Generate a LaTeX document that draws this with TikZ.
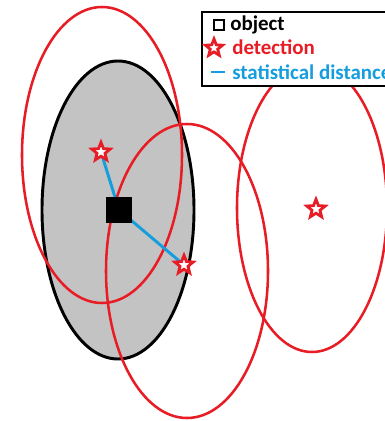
\documentclass[tikz,border=0pt]{standalone}
\usepackage{fontspec}
\setmainfont{Carlito}
\usetikzlibrary{shapes.geometric}
\definecolor{pred}{RGB}{232,28,36}
\definecolor{pblue}{RGB}{20,158,222}
\definecolor{pgray}{RGB}{195,195,195}
\tikzset{
  redell/.style={draw=pred,line width=1.9pt},
  det/.style={star,star points=5,star point ratio=2.3,minimum size=14.5pt,inner sep=0pt,draw=pred,fill=white,line width=2.1pt},
  dist/.style={draw=pblue,line width=2.2pt},
  legtext/.style={anchor=base west,font=\fontsize{15.7}{18}\selectfont\bfseries,inner sep=0pt}
}
\begin{document}
\begin{tikzpicture}[x=0.75pt,y=-0.75pt]
\useasboundingbox (0,0) rectangle (385,421);
\fill[white] (0,0) rectangle (385,421);
% object covariance
\draw[fill=pgray,line width=2.2pt] (118,210) ellipse [x radius=76,y radius=149];
% detection ellipses
\draw[redell] (102,155) ellipse [x radius=80,y radius=148];
\draw[redell] (187,271) ellipse [x radius=81,y radius=147];
\draw[redell] (312,208) ellipse [x radius=75,y radius=144];
% object and detections
\coordinate (oc) at (119,210);
\coordinate (p1) at (101,152);
\coordinate (p2) at (184,265);
\draw[dist] (p1) -- (oc);
\draw[dist] (oc) -- (p2);
\node[fill=black,minimum width=19pt,minimum height=20pt,inner sep=0pt] (obj) at (oc) {};
\node[det] (d1) at (p1) {};
\node[det] (d2) at (p2) {};
\node[det] (d3) at (316,209) {};
% legend
\draw[fill=white,line width=1.2pt] (202,12) rectangle (400,86);
\node[draw,line width=1.6pt,minimum size=7pt,inner sep=0pt] (lo) at (219,25) {};
\node[legtext] (to) at (230,30) {object};
\node[det,minimum size=13.5pt] (ld) at (214,48) {};
\node[legtext,text=pred] (td) at (232,54) {detection};
\coordinate (ls1) at (211,72);
\coordinate (ls2) at (225,72);
\draw[dist] (ls1) -- (ls2);
\node[legtext,text=pblue] (ts) at (232,79) {statistical distance};
\end{tikzpicture}
\end{document}
